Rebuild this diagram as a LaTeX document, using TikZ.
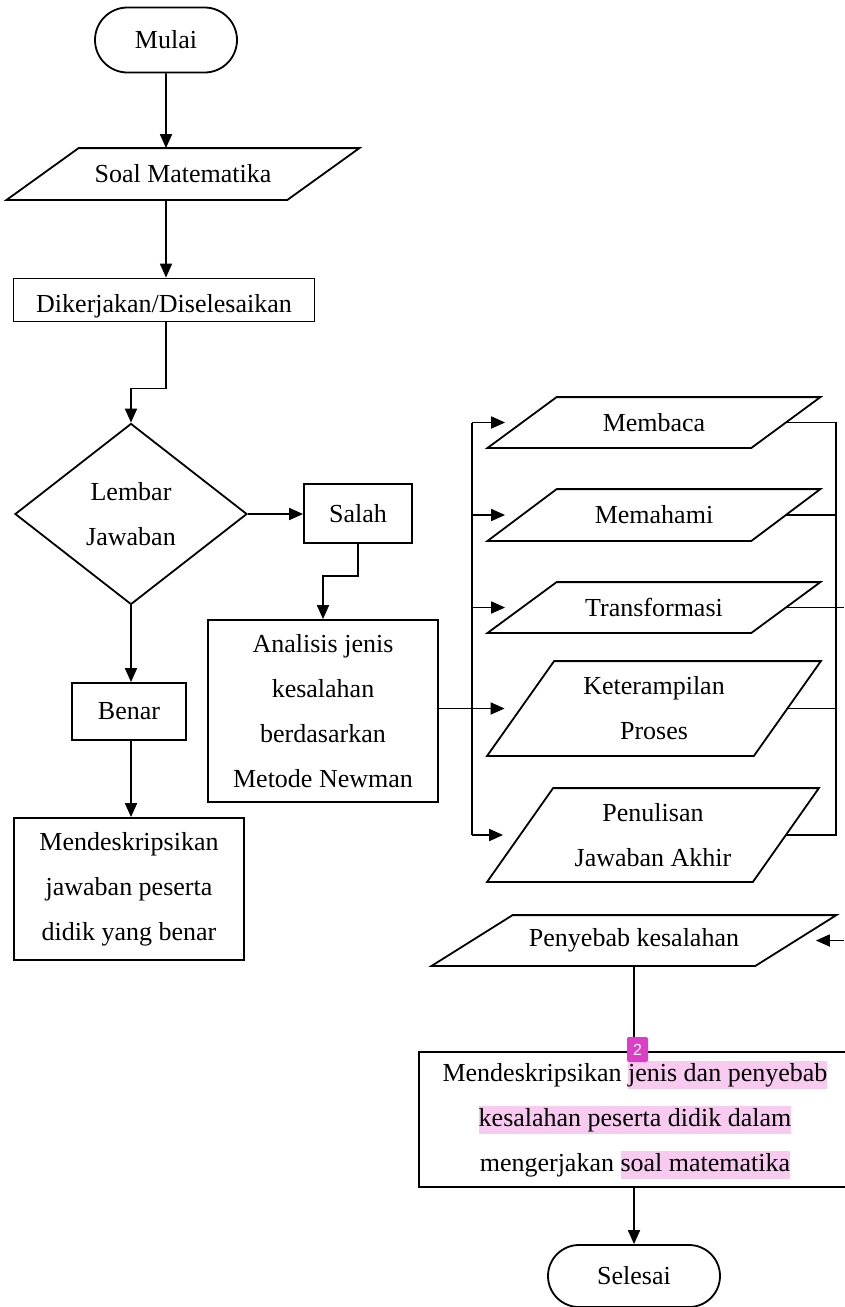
\documentclass[tikz,border=0pt]{standalone}
\usepackage{fontspec}
\setmainfont{Liberation Serif}
\setsansfont{Liberation Sans}
\usepackage{tikz}
\usetikzlibrary{
  arrows.meta,
  calc,
  positioning,
  shapes.geometric,
  shapes.misc
}
\definecolor{tandapink}{RGB}{248,202,240}
\definecolor{tandaungu}{RGB}{220,62,200}
\tikzset{>={Triangle[length=14pt,width=12pt]}}
\tikzset{
  ujung/.style={rounded rectangle, draw, inner sep=0pt},
  proses/.style={rectangle, draw, align=center, inner sep=0pt},
  jajar/.style={rectangle, align=center, inner sep=0pt},
  putusan/.style={diamond, draw, align=center, inner sep=0pt},
  alur/.style={->}
}
\newcommand{\sorot}[1]{{\setlength{\fboxsep}{0pt}\colorbox{tandapink}{\vrule height 21pt depth 7pt width 0pt#1}}}

\begin{document}
\begin{tikzpicture}[x=1pt, y=-1pt, line width=1.8pt, font=\fontsize{26}{45}\selectfont]
  \useasboundingbox (0,0) rectangle (844,1307);
  % kolom kiri
  \node[ujung, minimum width=142pt, minimum height=65pt] (mulai) at (166,40) {Mulai};
  \node[jajar, minimum width=279pt, minimum height=50pt] (soal) at (183,174) {Soal Matematika};
  \node[proses, minimum width=301pt, minimum height=43pt, text height=24pt, text depth=0pt] (kerja) at (164,300) {Dikerjakan/Diselesaikan};
  \node[putusan, minimum width=232pt, minimum height=181pt] (lembar) at (131,514) {Lembar\\Jawaban};
  \node[proses, minimum width=108pt, minimum height=59pt] (salah) at (358,513.5) {Salah};
  \node[proses, minimum width=230pt, minimum height=182pt] (analisis) at (323,711) {Analisis jenis\\kesalahan\\berdasarkan\\Metode Newman};
  \node[proses, minimum width=114pt, minimum height=57pt] (benar) at (129,711.5) {Benar};
  \node[proses, minimum width=230pt, minimum height=142pt] (deskbenar) at (129,889) {Mendeskripsikan\\jawaban peserta\\didik yang benar};
  % kolom kanan
  \node[jajar, minimum width=262pt, minimum height=49pt] (membaca) at (654,422.5) {Membaca};
  \node[jajar, minimum width=262pt, minimum height=50pt] (memahami) at (654,515) {Memahami};
  \node[jajar, minimum width=262pt, minimum height=49pt] (transformasi) at (654,607.5) {Transformasi};
  \node[jajar, minimum width=265pt, minimum height=93pt] (keterampilan) at (654,708.5) {Keterampilan\\Proses};
  \node[jajar, minimum width=264pt, minimum height=92pt] (penulisan) at (653,835) {Penulisan\\Jawaban Akhir};
  \node[jajar, minimum width=322pt, minimum height=49pt] (penyebab) at (634,940.5) {Penyebab kesalahan};
  \node[proses, minimum width=432pt, minimum height=135pt] (deskesalahan) at (635,1119.5)
    {Mendeskripsikan \sorot{jenis dan penyebab}\\\sorot{kesalahan peserta didik dalam}\\mengerjakan \sorot{soal matematika}};
  \node[ujung, minimum width=172pt, minimum height=62pt] (selesai) at (634,1276) {Selesai};

  % jajar genjang
  \foreach \n/\s in {soal/72,membaca/69,memahami/69,transformasi/69,keterampilan/67,penulisan/66,penyebab/81}
    \draw ($(\n.north west)+(\s/2,0)$) -- ($(\n.north east)+(\s/2,0)$)
       -- ($(\n.south east)-(\s/2,0)$) -- ($(\n.south west)-(\s/2,0)$) -- cycle;

  \coordinate (kiri) at (472,0);
  \coordinate (kanan) at (836,0);
  \coordinate (tepi) at (844,0);

  \draw[alur] (mulai) -- (mulai |- soal.north);
  \draw[alur] (mulai |- soal.south) -- (mulai |- kerja.north);
  \draw[alur] (mulai |- kerja.south) -- ++(0,66) -| (lembar.north);
  \draw[alur] (lembar.east) -- (lembar.east -| salah.west);
  \draw[alur] (salah.south) -- ++(0,32) -| (analisis.north);
  \draw[alur] (lembar.south) -- (lembar.south |- benar.north);
  \draw[alur] (lembar.south |- benar.south) -- (lembar.south |- deskbenar.north);
  \draw[alur, shorten >=16pt] (analisis.east |- keterampilan) -- (keterampilan);

  \draw (kiri |- membaca) -- (kiri |- penulisan);
  \foreach \n in {membaca,memahami,transformasi,penulisan}
    \draw[alur, shorten >=17pt] (kiri |- \n) -- (\n);
  \draw (membaca.east) -| (kanan |- penulisan.east) -- (penulisan.east);
  \foreach \n in {memahami,keterampilan}
    \draw (\n.east) -- (\n.east -| kanan);
  \draw (transformasi.east) -- (transformasi.east -| tepi);
  \draw[alur, shorten >=20pt] (tepi |- penyebab) -- (penyebab);

  \draw[alur] (penyebab.south) -- (penyebab.south |- deskesalahan.north);
  \draw[alur] (selesai |- deskesalahan.south) -- (selesai.north);

  \node[fill=tandaungu, rounded corners=2pt, text=white, inner sep=0pt,
        minimum width=21pt, minimum height=25pt, font=\sffamily\fontsize{16}{16}\selectfont]
        (catatan) at (637.5,1049.5) {2};
\end{tikzpicture}
\end{document}
